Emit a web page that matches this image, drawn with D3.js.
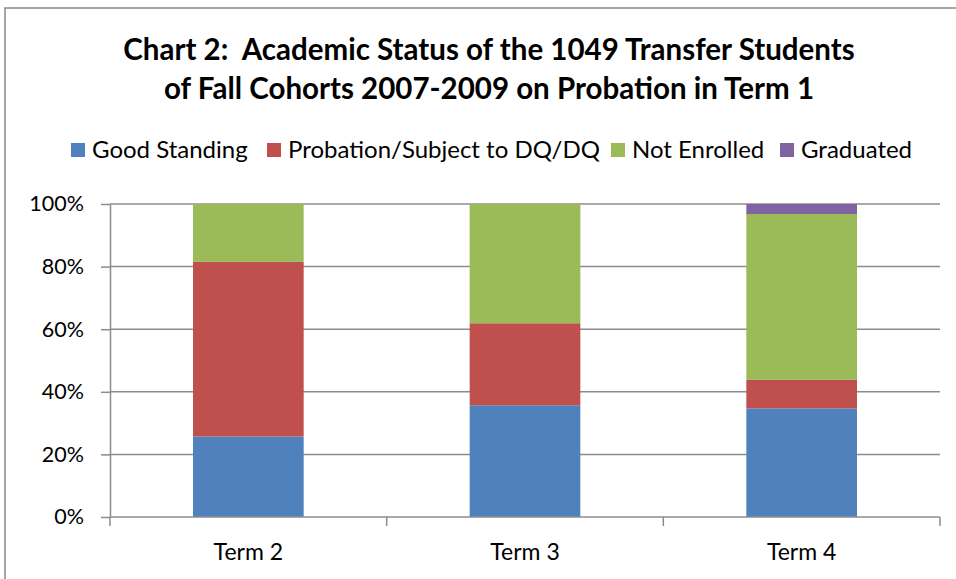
<!DOCTYPE html>
<html>
<head>
<meta charset="utf-8">
<script src="https://cdn.jsdelivr.net/npm/d3@7"></script>
<style>
  body { margin: 0; background: #fff; }
  text { font-family: Lato, "Open Sans", sans-serif; fill: #000; white-space: pre; }
</style>
</head>
<body>
<svg id="chart"></svg>
<script>
// chart data (shares of each term, in %)
const terms = ["Term 2", "Term 3", "Term 4"]
const series = ["Good Standing", "Probation/Subject to DQ/DQ", "Not Enrolled", "Graduated"]
const goodStanding = [25.7, 35.7, 34.7]
const probation = [55.8, 26.2, 9.1]
const notEnrolled = [18.5, 38.1, 53.0]
const graduated = [0, 0, 3.2]
const yTicks = [0, 20, 40, 60, 80, 100]
const titleLines = ["Chart 2:  Academic Status of the 1049 Transfer Students",
                    "of Fall Cohorts 2007-2009 on Probation in Term 1"]
const colors = ["#4F81BD", "#C0504D", "#9BBB59", "#8064A2"]

const width = 956
const height = 579
const margin = { left: 110, right: 16, top: 204, bottom: 62 }

const svg = d3.select("#chart").attr("width", width).attr("height", height)

// outer border
svg.append("rect")
    .attr("x", 5).attr("y", 8)
    .attr("width", width + 10).attr("height", height + 10)
    .attr("fill", "none").attr("stroke", "#888").attr("stroke-width", 1.5)

// title
svg.append("g").selectAll("text")
    .data(titleLines)
    .join("text")
    .attr("x", 489)
    .attr("y", (d, i) => 60 + i * 39)
    .attr("text-anchor", "middle")
    .attr("font-size", 29.5)
    .attr("font-weight", "bold")
    .text(d => d)

// legend
const legendX = [71, 267, 611, 780]
const legend = svg.append("g").selectAll("g")
    .data(series)
    .join("g")
    .attr("transform", (d, i) => `translate(${legendX[i]}, 143)`)
legend.append("rect")
    .attr("width", 14).attr("height", 14)
    .attr("fill", (d, i) => colors[i])
legend.append("text")
    .attr("x", 21).attr("y", 15)
    .attr("font-size", 24)
    .text(d => d)

// scales
const x = d3.scaleBand()
    .domain(terms)
    .range([margin.left, width - margin.right])
    .paddingInner(0.6)
    .paddingOuter(0.3)
const y = d3.scaleLinear()
    .domain([0, 100])
    .range([height - margin.bottom, margin.top])

// gridlines
svg.append("g").selectAll("line")
    .data(yTicks.slice(1))
    .join("line")
    .attr("x1", margin.left).attr("x2", width - margin.right)
    .attr("y1", d => y(d)).attr("y2", d => y(d))
    .attr("stroke", "#8c8c8c").attr("stroke-width", 1.5)

// stacked bars
const table = terms.map((t, i) => ({
    term: t,
    [series[0]]: goodStanding[i],
    [series[1]]: probation[i],
    [series[2]]: notEnrolled[i],
    [series[3]]: graduated[i]
}))
const stacked = d3.stack().keys(series)(table)

svg.append("g").selectAll("g")
    .data(stacked)
    .join("g")
    .attr("fill", (d, i) => colors[i])
    .selectAll("rect")
    .data(d => d)
    .join("rect")
    .attr("x", d => x(d.data.term))
    .attr("width", x.bandwidth())
    .attr("y", d => y(d[1]))
    .attr("height", d => y(d[0]) - y(d[1]))

// y axis
const yAxis = d3.axisLeft(y)
    .tickValues(yTicks)
    .tickFormat(d => d + "%")
    .tickSize(0)
    .tickPadding(26)
const gy = svg.append("g")
    .attr("transform", `translate(${margin.left},0)`)
    .call(yAxis)
gy.select(".domain").attr("stroke", "#8c8c8c").attr("stroke-width", 1.5)
gy.selectAll("text").attr("font-size", 21.5).attr("fill", "#000").attr("font-family", null)
gy.selectAll(".tick").append("line")
    .attr("x1", -9).attr("x2", 0)
    .attr("stroke", "#8c8c8c").attr("stroke-width", 1.5)

// x axis with ticks on category boundaries
const xBase = y(0)
svg.append("line")
    .attr("x1", margin.left).attr("x2", width - margin.right)
    .attr("y1", xBase).attr("y2", xBase)
    .attr("stroke", "#8c8c8c").attr("stroke-width", 1.5)
const boundaries = d3.range(terms.length + 1).map(i => margin.left + i * x.step())
svg.append("g").selectAll("line")
    .data(boundaries)
    .join("line")
    .attr("x1", d => d).attr("x2", d => d)
    .attr("y1", xBase).attr("y2", xBase + 9)
    .attr("stroke", "#8c8c8c").attr("stroke-width", 1.5)
svg.append("g").selectAll("text")
    .data(terms)
    .join("text")
    .attr("x", d => x(d) + x.bandwidth() / 2)
    .attr("y", 560)
    .attr("text-anchor", "middle")
    .attr("font-size", 23)
    .text(d => d)
</script>
</body>
</html>
